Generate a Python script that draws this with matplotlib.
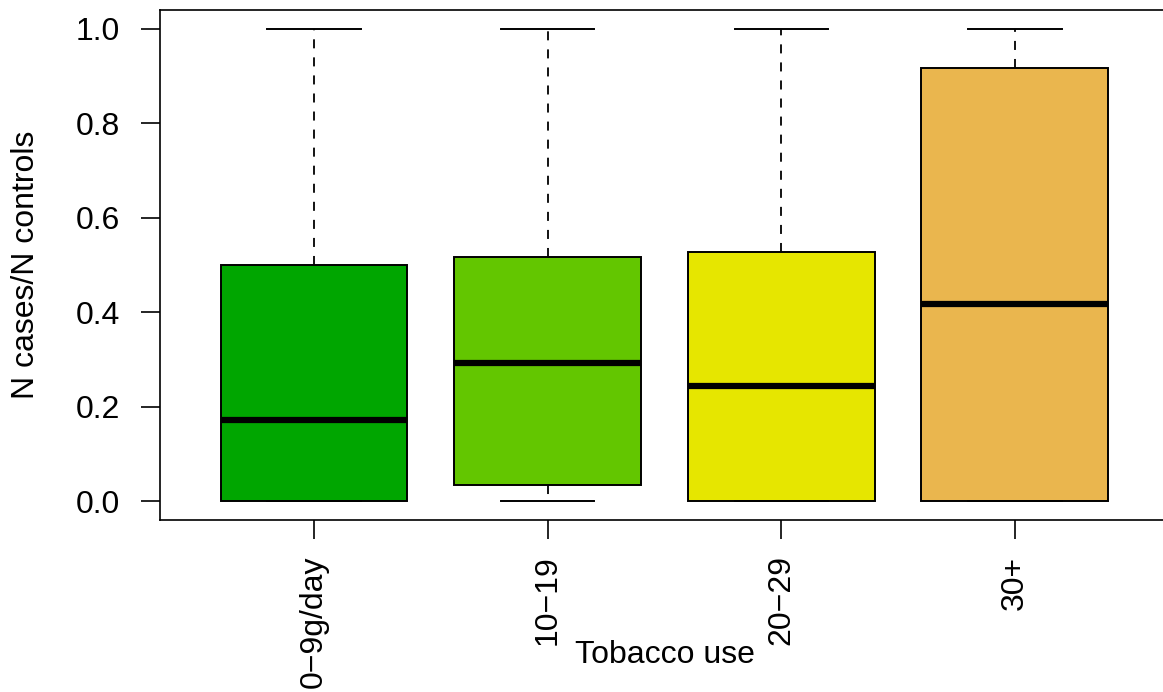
import matplotlib
matplotlib.use("Agg")
import matplotlib.pyplot as plt

# ratio of cases to controls grouped by tobacco consumption
groups = ["0\u22129g/day", "10\u221219", "20\u221229", "30+"]
whisker_low = [0.0, 0.0, 0.0, 0.0]
q1 = [0.0, 0.035, 0.0, 0.0]
medians = [0.172, 0.292, 0.243, 0.417]
q3 = [0.5, 0.517, 0.528, 0.917]
whisker_high = [1.0, 1.0, 1.0, 1.0]
colors = ["#00A600", "#63C600", "#E6E600", "#EAB64E"]

plt.rcParams["font.family"] = ["Liberation Sans", "DejaVu Sans"]
plt.rcParams["font.size"] = 23

fig = plt.figure(figsize=(11.63, 6.92), dpi=100)
ax = fig.add_axes([0.1374, 0.2486, 0.8679, 0.737])

stats = []
for i in range(len(groups)):
    stats.append({
        "label": groups[i],
        "whislo": whisker_low[i],
        "q1": q1[i],
        "med": medians[i],
        "q3": q3[i],
        "whishi": whisker_high[i],
        "fliers": [],
    })

bp = ax.bxp(stats, positions=range(1, len(groups) + 1), widths=0.8,
            patch_artist=True, showfliers=False,
            boxprops=dict(linewidth=1.4, edgecolor="black"),
            medianprops=dict(color="black", linewidth=4.5, solid_capstyle="butt"),
            whiskerprops=dict(color="black", linewidth=1.3, linestyle=(0, (5, 5))),
            capprops=dict(color="black", linewidth=1.4),
            capwidths=0.4)
for patch, c in zip(bp["boxes"], colors):
    patch.set_facecolor(c)

ax.set_xlim(0.34, 4.66)
ax.set_ylim(-0.04, 1.04)
ax.set_yticks([0.0, 0.2, 0.4, 0.6, 0.8, 1.0])
ax.set_yticklabels(["0.0", "0.2", "0.4", "0.6", "0.8", "1.0"])
ax.set_xticks(range(1, len(groups) + 1))
ax.set_xticklabels(groups, rotation=90)
ax.tick_params(axis="both", direction="out", length=13.5, width=1.2, color="black")
ax.tick_params(axis="y", pad=15)
ax.tick_params(axis="x", pad=12)
for s in ax.spines.values():
    s.set_linewidth(1.2)

ax.text(0.5, -0.265, "Tobacco use", transform=ax.transAxes,
        ha="center", va="center")
fig.text(26 / 1163, 1 - 265 / 692, "N cases/N controls", rotation=90,
         ha="center", va="center")

fig.savefig("out.png", dpi=100)
